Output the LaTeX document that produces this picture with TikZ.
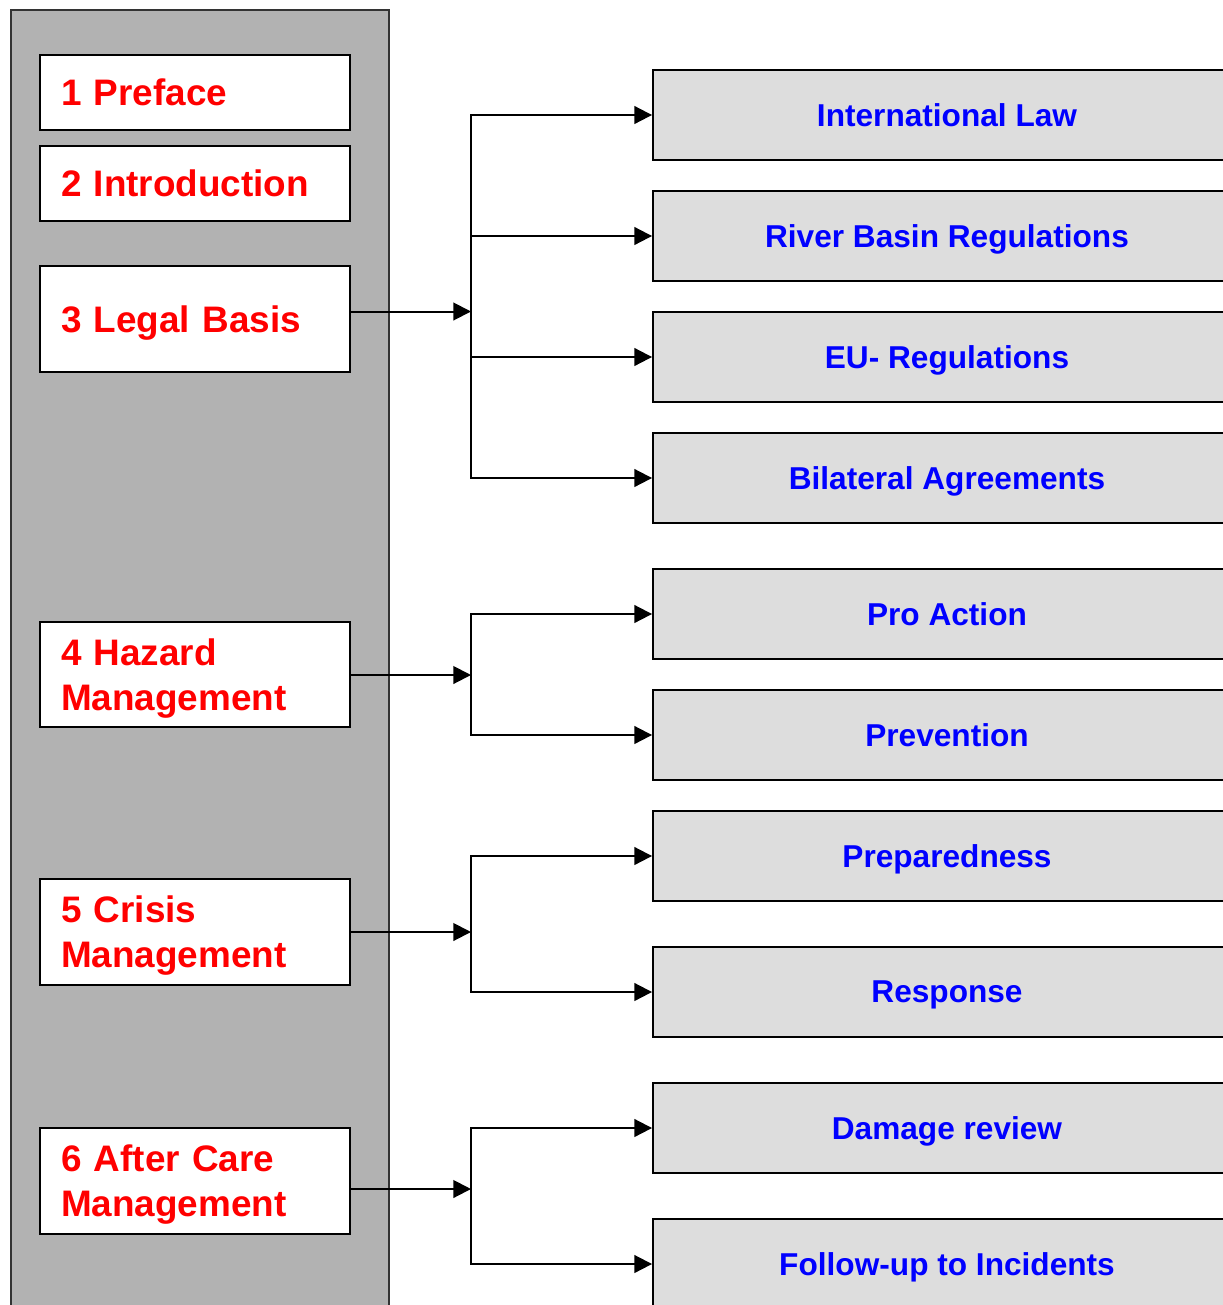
\documentclass[tikz,border=0pt]{standalone}
\usepackage{fontspec}
\setmainfont{Liberation Sans}
\usetikzlibrary{arrows.meta}
\definecolor{panelgray}{HTML}{B2B2B2}
\definecolor{boxgray}{HTML}{DDDDDD}
\tikzset{
  chapter/.style={draw=black, fill=white, line width=0.04cm, minimum width=6.2cm,
    inner xsep=0.42cm, text width=5.36cm, align=left, text depth=0pt, text=red,
    font=\bfseries\fontsize{21}{25.5}\selectfont},
  twoline/.style={text depth=25.5pt},
  topic/.style={draw=black, fill=boxgray, line width=0.04cm, minimum width=11.76cm,
    minimum height=1.8cm, text depth=0pt, text=blue, font=\bfseries\fontsize{18}{21.6}\selectfont},
  link/.style={line width=0.04cm, -{Triangle[length=10pt, width=10pt]}}
}
\begin{document}
\begin{tikzpicture}[x=0.02cm, y=-0.02cm]
		%%%%% START %%%%%
		\useasboundingbox (0, 0) rectangle (1223, 1305);
		\clip (0, 0) rectangle (1223, 1305);
		
		\node[draw=black!80, fill=panelgray, line width=0.04cm, minimum width=7.56cm, minimum height=26.5cm, anchor=north west] (panel) at (10, 9) {};
		
		\node[chapter, minimum height=1.5cm] (preface) at (195, 92.5) {1 Preface};
		\node[chapter, minimum height=1.5cm] (intro) at (195, 183.5) {2 Introduction};
		\node[chapter, minimum height=2.12cm] (legal) at (195, 319) {3 Legal Basis};
		\node[chapter, twoline, minimum height=2.1cm] (hazard) at (195, 674.5) {4 Hazard\\Management};
		\node[chapter, twoline, minimum height=2.12cm] (crisis) at (195, 932) {5 Crisis\\Management};
		\node[chapter, twoline, minimum height=2.12cm] (aftercare) at (195, 1181) {6 After Care\\Management};
		
		\node[topic] (intlaw) at (947, 115) {International Law};
		\node[topic] (basin) at (947, 236) {River Basin Regulations};
		\node[topic] (eureg) at (947, 357) {EU- Regulations};
		\node[topic] (bilateral) at (947, 478) {Bilateral Agreements};
		\node[topic] (proaction) at (947, 614) {Pro Action};
		\node[topic] (prevention) at (947, 735) {Prevention};
		\node[topic] (prepared) at (947, 856) {Preparedness};
		\node[topic] (response) at (947, 992) {Response};
		\node[topic] (damage) at (947, 1128) {Damage review};
		\node[topic] (followup) at (947, 1264) {Follow-up to Incidents};
		
		\coordinate (busA) at (471, 311.5);
		\coordinate (busB) at (471, 675);
		\coordinate (busC) at (471, 932);
		\coordinate (busD) at (471, 1189);
		
		\draw[link] (legal.east |- busA) -- (busA);
		\draw[link] (busA) |- (intlaw.west);
		\draw[link] (busA) |- (basin.west);
		\draw[link] (busA) |- (eureg.west);
		\draw[link] (busA) |- (bilateral.west);
		
		\draw[link] (hazard.east |- busB) -- (busB);
		\draw[link] (busB) |- (proaction.west);
		\draw[link] (busB) |- (prevention.west);
		
		\draw[link] (crisis.east |- busC) -- (busC);
		\draw[link] (busC) |- (prepared.west);
		\draw[link] (busC) |- (response.west);
		
		\draw[link] (aftercare.east |- busD) -- (busD);
		\draw[link] (busD) |- (damage.west);
		\draw[link] (busD) |- (followup.west);
		
		%%%%% END %%%%%
\end{tikzpicture}
\end{document}
